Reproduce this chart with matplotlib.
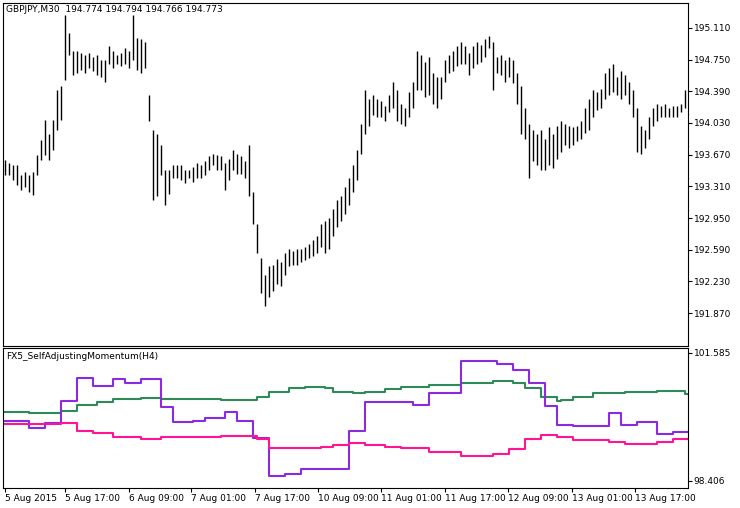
import numpy as np
import matplotlib
matplotlib.use('Agg')
import matplotlib.pyplot as plt

# M30 bars, high / low
highs = [193.61, 193.58, 193.55, 193.55, 193.44, 193.47, 193.44, 193.47, 193.67, 193.84,
         194.06, 193.90, 194.06, 194.40, 194.45, 195.26, 195.05, 194.85, 194.85, 194.82,
         194.80, 194.82, 194.78, 194.80, 194.75, 194.75, 194.90, 194.85, 194.80, 194.82,
         194.88, 194.85, 195.26, 195.00, 194.98, 194.95, 194.35, 193.95, 193.90, 193.78,
         193.50, 193.50, 193.55, 193.55, 193.55, 193.50, 193.50, 193.53, 193.58, 193.55,
         193.60, 193.65, 193.68, 193.67, 193.65, 193.58, 193.62, 193.72, 193.68, 193.65,
         193.60, 193.78, 193.25, 192.88, 192.50, 192.30, 192.40, 192.42, 192.48, 192.45,
         192.55, 192.60, 192.58, 192.60, 192.60, 192.62, 192.65, 192.70, 192.75, 192.88,
         192.92, 192.95, 193.05, 193.15, 193.20, 193.30, 193.40, 193.55, 193.72, 194.02,
         194.40, 194.30, 194.35, 194.30, 194.28, 194.22, 194.35, 194.50, 194.40, 194.25,
         194.20, 194.38, 194.50, 194.85, 194.80, 194.72, 194.78, 194.60, 194.55, 194.55,
         194.75, 194.80, 194.85, 194.90, 194.95, 194.90, 194.82, 194.90, 194.95, 194.92,
         194.98, 195.02, 194.95, 194.78, 194.80, 194.75, 194.78, 194.75, 194.60, 194.45,
         194.20, 194.02, 193.95, 193.90, 193.95, 193.85, 193.98, 193.90, 194.00, 194.05,
         194.02, 194.00, 193.98, 194.00, 194.05, 194.20, 194.30, 194.40, 194.38, 194.42,
         194.60, 194.65, 194.70, 194.55, 194.62, 194.58, 194.50, 194.40, 194.20, 194.00,
         193.95, 194.10, 194.20, 194.25, 194.22, 194.25, 194.20, 194.22, 194.22, 194.25,
         194.40]
lows = [193.44, 193.44, 193.38, 193.33, 193.27, 193.30, 193.24, 193.21, 193.44, 193.61,
        193.67, 193.61, 193.72, 193.95, 194.06, 194.52, 194.80, 194.58, 194.60, 194.63,
        194.60, 194.65, 194.62, 194.58, 194.55, 194.50, 194.70, 194.66, 194.70, 194.68,
        194.70, 194.66, 194.75, 194.63, 194.60, 194.65, 194.05, 193.15, 193.20, 193.44,
        193.10, 193.22, 193.40, 193.40, 193.38, 193.35, 193.40, 193.36, 193.40, 193.40,
        193.44, 193.50, 193.55, 193.50, 193.50, 193.27, 193.38, 193.50, 193.45, 193.45,
        193.40, 193.20, 192.88, 192.55, 192.10, 191.95, 192.05, 192.12, 192.20, 192.18,
        192.30, 192.40, 192.42, 192.42, 192.45, 192.47, 192.50, 192.52, 192.55, 192.62,
        192.55, 192.60, 192.75, 192.85, 192.92, 193.00, 193.10, 193.25, 193.38, 193.68,
        193.90, 194.00, 194.12, 194.10, 194.10, 194.05, 194.15, 194.20, 194.05, 194.02,
        194.00, 194.10, 194.20, 194.40, 194.40, 194.32, 194.35, 194.25, 194.20, 194.30,
        194.50, 194.60, 194.62, 194.68, 194.70, 194.70, 194.58, 194.65, 194.70, 194.72,
        194.78, 194.88, 194.40, 194.60, 194.58, 194.50, 194.55, 194.48, 194.25, 193.90,
        193.85, 193.40, 193.60, 193.55, 193.50, 193.50, 193.55, 193.52, 193.62, 193.70,
        193.78, 193.75, 193.78, 193.82, 193.85, 193.92, 193.95, 194.10, 194.18, 194.20,
        194.30, 194.35, 194.38, 194.35, 194.30, 194.35, 194.25, 194.10, 193.70, 193.68,
        193.75, 193.85, 194.00, 194.05, 194.10, 194.10, 194.10, 194.10, 194.10, 194.15,
        194.20]

# indicator step lines: bar index where each H4 value starts
green_idx = [0, 6, 14, 18, 23, 27, 34, 39, 54, 63, 66, 71, 75, 80, 82, 87, 90, 95, 99,
             106, 114, 122, 127, 130, 134, 138, 139, 142, 147, 155, 163, 170, 171]
green_val = [100.13, 100.10, 100.15, 100.29, 100.38, 100.44, 100.47, 100.45, 100.42, 100.48,
             100.62, 100.71, 100.75, 100.72, 100.62, 100.58, 100.62, 100.68, 100.74, 100.79,
             100.85, 100.90, 100.85, 100.71, 100.48, 100.40, 100.42, 100.50, 100.58, 100.62,
             100.65, 100.57, 100.46]
purple_idx = [0, 6, 10, 14, 18, 22, 27, 30, 34, 39, 42, 47, 50, 55, 58, 62, 66, 70, 74, 86,
              90, 102, 106, 114, 123, 127, 131, 135, 138, 142, 151, 154, 158, 163, 167, 171]
purple_val = [99.90, 99.73, 99.85, 100.40, 100.97, 100.77, 100.95, 100.85, 100.95, 100.24,
              99.87, 99.90, 99.98, 100.13, 99.90, 99.47, 98.53, 98.58, 98.70, 99.66,
              100.38, 100.29, 100.58, 101.39, 101.30, 101.16, 100.83, 100.27, 99.80, 99.76,
              100.09, 99.80, 99.87, 99.57, 99.63, 99.57]
pink_idx = [0, 14, 18, 22, 27, 34, 39, 42, 54, 63, 66, 79, 82, 86, 90, 95, 99, 106, 114,
            122, 126, 130, 134, 138, 142, 151, 155, 163, 167, 171]
pink_val = [99.82, 99.85, 99.66, 99.59, 99.51, 99.45, 99.50, 99.49, 99.53, 99.44,
            99.22, 99.24, 99.30, 99.36, 99.30, 99.24, 99.22, 99.13, 99.03, 99.07,
            99.19, 99.45, 99.55, 99.51, 99.42, 99.37, 99.33, 99.37, 99.44, 99.49]

price_ticks = [195.110, 194.750, 194.390, 194.030, 193.670, 193.310, 192.950, 192.590, 192.230, 191.870]
ind_ticks = [101.585, 98.406]
date_pos = [0, 15, 31, 46.5, 62.5, 78.25, 94, 110, 125.75, 141.75, 157.5]
date_labels = ['5 Aug 2015', '5 Aug 17:00', '6 Aug 09:00', '7 Aug 01:00', '7 Aug 17:00',
               '10 Aug 09:00', '11 Aug 01:00', '11 Aug 17:00', '12 Aug 09:00',
               '13 Aug 01:00', '13 Aug 17:00']

plt.rcParams['font.family'] = 'DejaVu Sans'
fig = plt.figure(figsize=(7.4, 5.08), dpi=100)
ax = fig.add_axes([3/740, 162/508, 685/740, 343/508])
ax2 = fig.add_axes([3/740, 20/508, 685/740, 140/508])

x = np.arange(len(highs))
ax.vlines(x, lows, highs, color='black', linewidth=1.0)
ax.set_ylim(191.495, 195.394)
ax.set_xlim(-0.5, 170.75)
ax.text(0.005, 0.995, 'GBPJPY,M30  194.774 194.794 194.766 194.773', transform=ax.transAxes,
        fontsize=6.5, va='top', ha='left')

ax2.step(green_idx, green_val, where='post', color='#2e8b57', linewidth=1.5)
ax2.step(purple_idx, purple_val, where='post', color='#8a2be2', linewidth=1.5)
ax2.step(pink_idx, pink_val, where='post', color='#ff1493', linewidth=1.5)
ax2.set_ylim(98.232, 101.709)
ax2.set_xlim(-0.5, 170.75)
ax2.text(0.005, 0.97, 'FX5_SelfAdjustingMomentum(H4)', transform=ax2.transAxes,
         fontsize=6.5, va='top', ha='left')

for a, ticks in ((ax, price_ticks), (ax2, ind_ticks)):
    a.yaxis.tick_right()
    a.set_yticks(ticks)
    a.set_yticklabels(['%.3f' % t for t in ticks], fontsize=6.5)
    a.tick_params(axis='y', length=3, width=0.8, pad=1)
    for s in a.spines.values():
        s.set_linewidth(0.8)

ax.set_xticks([])
ax2.set_xticks(date_pos)
ax2.set_xticklabels(date_labels, fontsize=6.5, ha='left')
ax2.tick_params(axis='x', length=3, width=0.8, pad=1)

fig.savefig('out.png', dpi=100)
